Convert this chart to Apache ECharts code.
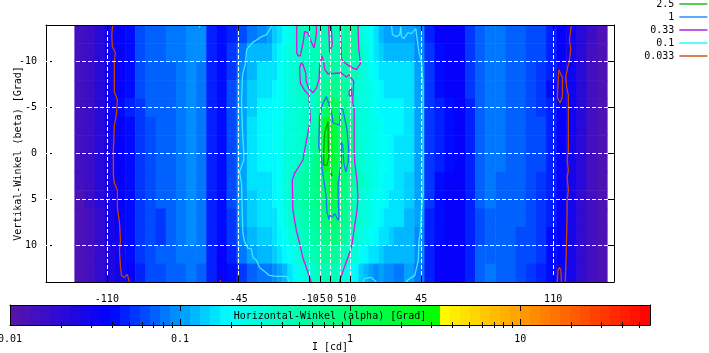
<!DOCTYPE html>
<html><head><meta charset="utf-8">
<style>html,body{margin:0;padding:0;background:#fff}#c{width:709px;height:353px}</style>
<script src="https://cdn.jsdelivr.net/npm/echarts@6/dist/echarts.min.js"></script>
</head><body><div id="c"></div>
<script>
const FONT = 'DejaVu Sans Mono';
const xTicks = [-110,-45,-10,-5,0,5,10,45,110];
const yTicks = [-10,-5,0,5,10];
const cbMajor = [0.01,0.1,1,10];
const cbMinor = [0.02,0.03,0.04,0.05,0.06,0.07,0.08,0.09,0.2,0.3,0.4,0.5,0.6,0.7,0.8,0.9,2,3,4,5,6,7,8,9,20,30,40,50];
const levels = ['2.5','1','0.33','0.1','0.033'];

const alphaEdges = [-126,-121,-116,-111,-106,-101,-96,-91,-86,-81,-76,-71,-66,-61,-56,-51,-46,-41,-36,-31,
 -28.5,-26,-23.5,-21,-18.5,-16,-13.5,-11,-8.5,-6,-3.5,-1,1.5,4,6.5,9,11.5,14,16.5,19,21.5,24,26.5,29,31.5,
 36.5,41.5,46.5,51.5,56.5,61.5,66.5,71.5,76.5,81.5,86.5,91.5,96.5,101.5,106.5,111.5,116.5,121.5,126.5,131.5,136.6];
const betaEdges = [-14,-12,-10,-8,-6,-4,-2,0,2,4,6,8,10,12,14];

const rowM13 = [.0135,.016,.021,.031,.038,.044,.06,.07,.072,.078,.085,.092,.095,.05,.04,.048,.065,.078,.09,
 .11,.14,.17,.2,.25,.3,.4,.38,.4,.42,.44,.46,.42,.44,.5,.58,.62,.55,.33,.24,.2,.15,.12,.11,.1,
 .105,.11,.095,.05,.038,.036,.038,.055,.075,.082,.078,.075,.07,.065,.06,.045,.036,.03,.021,.016,.012];
const rowM11 = [.0135,.016,.021,.031,.038,.044,.06,.069,.072,.077,.083,.09,.088,.05,.04,.055,.085,.115,.13,
 .13,.16,.19,.23,.27,.32,.36,.38,.4,.42,.46,.5,.48,.5,.55,.6,.62,.56,.34,.26,.21,.17,.14,.13,.12,
 .12,.13,.098,.052,.04,.036,.038,.055,.075,.082,.078,.075,.07,.066,.06,.046,.036,.029,.02,.015,.012];
const rowM9 = [.0135,.016,.021,.03,.037,.044,.06,.068,.07,.076,.082,.09,.086,.05,.04,.058,.095,.125,.15,
 .15,.17,.2,.24,.28,.33,.37,.38,.4,.42,.42,.5,.55,.55,.5,.48,.45,.42,.3,.26,.22,.18,.16,.15,.15,
 .15,.15,.1,.055,.042,.037,.038,.052,.072,.082,.08,.076,.07,.066,.058,.045,.031,.032,.02,.015,.012];
const rowM7 = [.0135,.016,.021,.032,.038,.044,.059,.067,.07,.075,.082,.092,.086,.05,.04,.06,.102,.14,.165,
 .17,.19,.21,.25,.28,.3,.34,.36,.38,.42,.5,.62,.75,.72,.62,.55,.45,.33,.28,.26,.23,.2,.18,.17,.17,
 .17,.16,.105,.058,.043,.038,.038,.052,.072,.082,.08,.076,.07,.066,.058,.044,.031,.033,.02,.015,.012];
const rowM5 = [.0135,.016,.02,.032,.04,.045,.058,.067,.069,.075,.081,.094,.086,.049,.04,.06,.102,.145,.175,
 .18,.2,.22,.25,.28,.3,.32,.35,.36,.38,.6,1.1,1.4,1.15,.95,.75,.5,.33,.28,.26,.24,.21,.19,.18,.18,
 .18,.16,.105,.058,.045,.04,.038,.05,.072,.08,.08,.076,.07,.066,.058,.046,.036,.03,.02,.015,.012];
const rowM3 = [.0135,.016,.02,.03,.037,.044,.058,.066,.068,.074,.08,.095,.085,.048,.04,.06,.1,.15,.18,
 .19,.2,.22,.26,.28,.3,.33,.35,.4,.5,1.05,2.2,2.4,1.5,1.05,1.05,.7,.34,.29,.27,.25,.23,.2,.19,.18,
 .18,.165,.105,.056,.045,.04,.038,.05,.072,.08,.078,.075,.07,.065,.06,.048,.036,.03,.02,.015,.012];
const rowM1 = [.0135,.016,.02,.029,.036,.043,.058,.066,.068,.074,.08,.095,.085,.048,.04,.06,.1,.15,.18,
 .19,.2,.22,.26,.29,.31,.33,.36,.48,.6,1.05,2.6,2.5,1.7,1.1,1.1,.8,.34,.3,.27,.25,.24,.22,.2,.19,
 .17,.15,.105,.055,.045,.04,.038,.05,.072,.08,.078,.075,.07,.065,.06,.048,.036,.029,.02,.015,.012];
const rowP1 = [.0135,.016,.02,.029,.036,.043,.058,.066,.068,.074,.08,.094,.085,.048,.04,.06,.1,.15,.175,
 .18,.19,.22,.26,.3,.33,.38,.45,.55,.68,.95,2.6,2.1,1.7,1.2,1.05,.7,.37,.32,.29,.26,.24,.22,.2,.19,
 .17,.15,.105,.055,.045,.04,.038,.05,.072,.08,.078,.075,.07,.065,.06,.048,.037,.029,.02,.015,.012];
const rowP3 = [.0135,.016,.02,.029,.036,.043,.057,.066,.068,.074,.08,.092,.084,.048,.04,.062,.105,.15,.17,
 .17,.19,.22,.27,.32,.38,.46,.54,.62,.72,.9,1.15,1.7,1.6,.95,.85,.66,.46,.35,.3,.26,.24,.21,.19,.18,
 .165,.145,.105,.055,.043,.038,.037,.05,.07,.078,.076,.073,.068,.064,.058,.047,.036,.029,.02,.015,.012];
const rowP5 = [.013,.016,.02,.028,.035,.042,.056,.065,.068,.074,.08,.09,.084,.048,.04,.06,.102,.145,.165,
 .165,.18,.21,.27,.33,.4,.46,.55,.62,.7,.85,1.1,1.5,1.4,.98,.76,.58,.43,.33,.28,.25,.22,.2,.18,.17,
 .16,.14,.102,.052,.042,.038,.037,.048,.068,.078,.076,.073,.068,.064,.058,.047,.036,.028,.019,.015,.012];
const rowP7 = [.013,.015,.019,.027,.034,.042,.056,.065,.058,.074,.08,.09,.083,.047,.04,.058,.1,.135,.155,
 .155,.17,.2,.25,.3,.36,.42,.5,.56,.62,.72,.9,1.05,1.05,.85,.66,.52,.38,.3,.26,.23,.2,.18,.17,.16,
 .15,.13,.1,.05,.04,.037,.036,.046,.066,.076,.075,.072,.068,.063,.056,.045,.036,.028,.019,.015,.012];
const rowP9 = [.013,.015,.019,.026,.033,.04,.055,.065,.056,.074,.079,.088,.082,.046,.04,.056,.098,.125,.14,
 .14,.16,.18,.22,.26,.31,.37,.44,.5,.56,.64,.75,.85,.8,.7,.56,.43,.33,.27,.23,.2,.18,.16,.15,.14,
 .13,.125,.098,.05,.04,.036,.036,.046,.065,.074,.074,.072,.066,.06,.054,.044,.036,.028,.019,.015,.012];
const rowP11 = [.013,.015,.018,.025,.032,.04,.055,.064,.068,.072,.078,.085,.08,.045,.038,.05,.08,.1,.125,
 .12,.135,.155,.18,.21,.25,.3,.36,.42,.48,.55,.6,.65,.6,.5,.38,.3,.26,.22,.19,.17,.155,.14,.13,.12,
 .12,.115,.095,.048,.038,.036,.036,.046,.068,.074,.074,.07,.066,.06,.052,.042,.036,.027,.018,.014,.012];
const rowP13 = [.013,.015,.018,.024,.03,.038,.05,.06,.065,.07,.075,.08,.075,.045,.036,.042,.055,.07,.085,
 .085,.097,.105,.12,.15,.19,.23,.27,.33,.38,.4,.42,.42,.4,.33,.28,.22,.18,.14,.12,.105,.098,.1,.095,.09,
 .085,.1,.085,.045,.037,.035,.034,.046,.07,.08,.075,.07,.064,.058,.05,.04,.033,.026,.018,.014,.012];
const intensity = [rowM13,rowM11,rowM9,rowM7,rowM5,rowM3,rowM1,rowP1,rowP3,rowP5,rowP7,rowP9,rowP11,rowP13];

const c25Main = [[-1,-3.48],[-2.6,-2.24],[-3.1,-.38],[-3.1,1.26],[-1.5,1.26],[-.6,.38],[-.8,-.38],[-.9,-2.02],[-1,-3.48]];
const c25Small = [[.35,1.91],[1,1.8],[1,2.46],[.35,2.35],[.35,1.91]];
const c1Main = [[-1.8,-6.21],[.8,-4.43],[1.5,-3.33],[4.8,-3.11],[5.3,-5.08],[6.4,-4.75],[8.4,-2.57],[9.2,-.38],[8.9,1.04],[7.8,1.99],[6.8,1.04],[6.3,-.93],[5.5,-1.26],[5.6,-.38],[5.6,1.04],[4,3.22],[4,4.72],[4.4,6.91],[4,7.27],[2.3,6.54],[1.2,6.91],[-.15,6.72],[-.5,7.19],[-1.5,6.36],[-2.1,4.32],[-3.8,1.8],[-4.2,.35],[-5.1,-.38],[-5.6,-.74],[-5.1,-4.02],[-3.8,-5.3],[-1.8,-6.21]];
const c033TopLeft = [[-16.4,-14],[-16.4,-10.98],[-15.8,-10.65],[-14.6,-10.65],[-13.3,-12.05],[-12.5,-13.31],[-10.9,-13.14],[-9.7,-12.41],[-7.9,-11.5],[-6.7,-12.95],[-6.7,-14]];
const c033Finger = [[-.5,-14],[-.6,-13.5],[-.15,-10.95],[1.1,-11.86],[.6,-14]];
const c033TopRight = [[4.8,-14],[5.3,-12.41],[5.6,-10.4],[6.4,-10.03],[9.7,-9.49],[13,-9.13],[15,-9.78],[14.2,-11.31],[13.8,-14]];
const c033Main = [[-9.2,14],[-10.9,12.92],[-13.3,11.42],[-15,9.78],[-16.6,8.36],[-18.3,6.18],[-18.6,2.9],[-17.4,2.13],[-13.3,.71],[-12.5,-.38],[-10.9,-2.24],[-9.7,-3.66],[-10.4,-6.39],[-12.5,-6.86],[-14.6,-7.67],[-15,-9.31],[-14.1,-9.89],[-13.3,-9.67],[-12,-8.8],[-11.7,-7.81],[-10.4,-7.05],[-8.4,-6.61],[-6.7,-7.16],[-5.4,-8.03],[-5.1,-9.49],[-4.1,-10.66],[-3.1,-10],[-2.6,-9.13],[-1,-8.69],[5.6,-8.77],[8.1,-8.33],[9.4,-8.58],[11.7,-7.85],[11.4,-6.58],[11.2,-5.52],[11.9,-4.97],[11.9,-.38],[12.2,1.04],[13.3,2.9],[13.8,4.86],[13.3,6.18],[10.6,10.19],[8.9,11.28],[5.1,13.61],[4.8,14]];
const c033Loop = [[9.4,-6.75],[10.5,-7.16],[10.6,-6.28],[9.5,-6.28],[9.4,-6.75]];
const c01Left = [[-28.3,-14],[-31.3,-12.95],[-33.7,-12.73],[-38.2,-12.08],[-41.1,-11.31],[-41.6,-9.89],[-43.1,-8.58],[-43.6,-5.85],[-43.1,-2.24],[-42.6,-.38],[-42.5,.71],[-44.6,2.02],[-43.6,3.22],[-43.3,5.85],[-43,8.58],[-42,9.67],[-40.5,10.33],[-38.8,10.33],[-38,11.31],[-36.3,11.64],[-34.7,12.41],[-29.8,13.28],[-26.3,13.39],[-21.4,13.39],[-19.9,14]];
const c01TopTick = [[-64.3,-14],[-64.3,-13.72]];
const c01Right = [[30.3,-14],[30.8,-12.95],[32.8,-12.73],[34.4,-12.95],[34.9,-13.83],[35.3,-12.73],[36.4,-12.51],[38.4,-13.17],[40.2,-13.06],[42.3,-13.61],[43,-12.41],[43.9,-10.98],[45.1,-10],[45.9,-7.27],[45.9,-.38],[45.9,4.32],[45.1,6.18],[44.6,8.36],[43.9,9.45],[43.5,11.64],[41.8,13.28],[38.5,13.75],[37.4,14]];
const c01Bottom = [[16.3,14],[17.1,13.61],[20.4,13.5],[22.9,14]];
const c0033Left = [[-107.1,-14],[-107.6,-12.95],[-107.3,-11.64],[-105.8,-10.98],[-106.3,-10],[-106.3,-6.72],[-104.8,-5.85],[-105.3,-4.2],[-106.3,-3.1],[-106.8,-.38],[-106.8,2.35],[-106.3,3.22],[-104.8,3.99],[-104.8,5.96],[-103.8,7.49],[-103.3,9.45],[-103.8,10.55],[-103.3,12.3],[-102.8,13.28],[-101.4,13.5],[-99.9,13.17],[-98.9,14]];
const c0033Tick = [[-54,13.77],[-54,14]];
const c0033Right = [[119,-14],[118.7,-13.5],[118,-12.4],[118.7,-11.31],[117.9,-10],[117.2,-9.46],[116.2,-8.26],[116.7,-7.16],[117.5,-6.39],[117.5,-.38],[116.9,.71],[117.5,1.8],[116.9,2.57],[117.5,3.99],[116.9,5.08],[116.9,6.39],[116.4,6.5],[116.4,11.31],[115.9,11.42],[115.9,14]];
const c0033LoopA = [[112.8,-9.13],[113.6,-9.2],[114.6,-8.25],[114.6,-6.18],[113.4,-5.52],[112.1,-6.07],[112.4,-7.49],[112.8,-9.13]];
const c0033LoopB = [[112.1,14],[112.4,12.73],[113.1,12.41],[113.8,12.73],[114.1,14]];

const contours = {
 '2.5':[c25Main,c25Small],
 '1':[c1Main],
 '0.33':[c033TopLeft,c033Finger,c033TopRight,c033Main,c033Loop],
 '0.1':[c01Left,c01TopTick,c01Right,c01Bottom],
 '0.033':[c0033Left,c0033Tick,c0033Right,c0033LoopA,c0033LoopB]
};
const lineColors = {'2.5':'#00a000','1':'#2070ff','0.33':'#e010e8','0.1':'#40e8ff','0.033':'#c84400'};
const keyColors = {'2.5':'#00b000','1':'#0080ff','0.33':'#a000e0','0.1':'#00f8ff','0.033':'#c04000'};

// colour scale
const CB_MIN = 0.01, CB_MAX = 58, BANDS = 64;
const lmin = Math.log10(CB_MIN), lspan = Math.log10(CB_MAX) - lmin;
const stops = [[0,[90,20,168]],[0.59,[0,0,255]],[1.28,[0,255,255]],[2.53,[0,255,0]],[2.5301,[255,255,0]],[3.76,[255,0,0]]];
function colorAtT(t){
  for(let i=1;i<stops.length;i++){
    if(t<=stops[i][0]){
      const a=stops[i-1],b=stops[i],f=(t-a[0])/(b[0]-a[0]);
      return 'rgb('+a[1].map((c,k)=>Math.round(c+(b[1][k]-c)*f)).join(',')+')';
    }
  }
  return 'rgb(255,0,0)';
}
function colorOf(v){
  const frac=(Math.log10(v)-lmin)/lspan;
  const b=Math.min(BANDS-1,Math.max(0,Math.floor(frac*BANDS)));
  return colorAtT((b+0.5)/BANDS*lspan);
}
const heatData=[];
intensity.forEach((row,j)=>row.forEach((v,i)=>{
  heatData.push([alphaEdges[i],alphaEdges[i+1],betaEdges[j],betaEdges[j+1],v]);
}));
const cbData=[];
for(let b=0;b<BANDS;b++){
  cbData.push([Math.pow(10,lmin+b/BANDS*lspan),Math.pow(10,lmin+(b+1)/BANDS*lspan),0,1,Math.pow(10,lmin+(b+.5)/BANDS*lspan)]);
}
function rectItem(params,api){
  const p0=api.coord([api.value(0),api.value(2)]);
  const p1=api.coord([api.value(1),api.value(3)]);
  const c=colorOf(api.value(4));
  return {type:'rect',shape:{x:Math.min(p0[0],p1[0]),y:Math.min(p0[1],p1[1]),width:Math.abs(p1[0]-p0[0])+.5,height:Math.abs(p1[1]-p0[1])+.5},style:{fill:c},silent:true};
}
const txt={fontFamily:FONT,fontSize:10,color:'#000'};
const blackLine={show:true,onZero:false,lineStyle:{color:'#000',width:1}};
const flatten=segs=>{const o=[];segs.forEach((s,i)=>{if(i)o.push([null,null]);s.forEach(p=>o.push(p));});return o;};

const chart=echarts.init(document.getElementById('c'),null,{renderer:'canvas'});
chart.setOption({
 animation:false,
 backgroundColor:'#fff',
 textStyle:txt,
 tooltip:{show:false},
 legend:{
  orient:'vertical',right:1,top:-1,align:'right',itemWidth:28,itemHeight:10,itemGap:3,padding:0,
  selectedMode:false,
  data:levels.map(n=>({name:n,itemStyle:{opacity:0},lineStyle:{color:keyColors[n],width:1.3}})),
  textStyle:{fontFamily:FONT,fontSize:10,color:'#000',width:40,align:'right',padding:[0,0,0,0]}
 },
 grid:[
  {left:46,top:25,width:568,height:257,containLabel:false,outerBoundsMode:'none'},
  {left:10,top:305,width:640,height:20,containLabel:false,outerBoundsMode:'none'}
 ],
 xAxis:[
  {gridIndex:0,type:'value',min:-140,max:140,position:'bottom',z:6,
   axisLine:blackLine,
   axisTick:{show:true,inside:true,length:6,customValues:xTicks,lineStyle:{color:'#000'}},
   axisLabel:{show:true,customValues:xTicks,margin:12,hideOverlap:false,showMinLabel:true,showMaxLabel:true,...txt},
   splitLine:{show:true,lineStyle:{color:'#fff',type:[4,2],width:1}},
   name:'Horizontal-Winkel (alpha) [Grad]',nameLocation:'center',nameGap:29,nameMoveOverlap:false,nameTextStyle:txt},
  {gridIndex:0,type:'value',min:-140,max:140,position:'top',z:6,
   axisLine:blackLine,
   axisTick:{show:true,inside:true,length:6,customValues:xTicks,lineStyle:{color:'#000'}},
   axisLabel:{show:false},splitLine:{show:false}},
  {gridIndex:1,type:'log',logBase:10,min:CB_MIN,max:CB_MAX,position:'bottom',z:5,
   axisLine:blackLine,
   axisTick:{show:true,inside:true,length:6,customValues:cbMajor,lineStyle:{color:'#000'}},
   axisLabel:{show:true,customValues:cbMajor,margin:9,hideOverlap:false,showMinLabel:true,...txt,formatter:v=>String(+(+v).toPrecision(2))},
   splitLine:{show:false},minorTick:{show:false},
   name:'I [cd]',nameLocation:'center',nameGap:17,nameMoveOverlap:false,nameTextStyle:txt},
  {gridIndex:1,type:'log',logBase:10,min:CB_MIN,max:CB_MAX,position:'top',z:5,
   axisLine:blackLine,
   axisTick:{show:true,inside:true,length:6,customValues:cbMajor,lineStyle:{color:'#000'}},
   axisLabel:{show:false},splitLine:{show:false}},
  {gridIndex:1,type:'log',logBase:10,min:CB_MIN,max:CB_MAX,position:'bottom',z:5,
   axisLine:{show:false},
   axisTick:{show:true,inside:true,length:3,customValues:cbMinor,lineStyle:{color:'#000'}},
   axisLabel:{show:false},splitLine:{show:false}},
  {gridIndex:1,type:'log',logBase:10,min:CB_MIN,max:CB_MAX,position:'top',z:5,
   axisLine:{show:false},
   axisTick:{show:true,inside:true,length:3,customValues:cbMinor,lineStyle:{color:'#000'}},
   axisLabel:{show:false},splitLine:{show:false}}
 ],
 yAxis:[
  {gridIndex:0,type:'value',min:-14,max:14,inverse:true,position:'left',z:0,
   axisLine:blackLine,
   axisTick:{show:true,inside:true,length:6,customValues:yTicks,lineStyle:{color:'#000'}},
   axisLabel:{show:true,customValues:yTicks,margin:9,...txt},
   splitLine:{show:true,lineStyle:{color:'#aaa',type:[4,2],width:1}},
   name:'Vertikal-Winkel (beta) [Grad]',nameLocation:'center',nameGap:23,nameMoveOverlap:false,nameTextStyle:txt},
  {gridIndex:0,type:'value',min:-14,max:14,inverse:true,position:'right',z:6,
   axisLine:blackLine,
   axisTick:{show:true,inside:true,length:6,customValues:yTicks,lineStyle:{color:'#000'}},
   axisLabel:{show:false},
   splitLine:{show:true,lineStyle:{color:'#fff',type:[4,2],width:1}}},
  {gridIndex:1,type:'value',min:0,max:1,position:'left',z:5,axisLine:blackLine,axisTick:{show:false},axisLabel:{show:false},splitLine:{show:false}},
  {gridIndex:1,type:'value',min:0,max:1,position:'right',z:5,axisLine:blackLine,axisTick:{show:false},axisLabel:{show:false},splitLine:{show:false}}
 ],
 series:[
  {type:'custom',name:'I',xAxisIndex:0,yAxisIndex:0,z:2,silent:true,renderItem:rectItem,encode:{x:[0,1],y:[2,3]},data:heatData},
  {type:'custom',name:'cb',xAxisIndex:2,yAxisIndex:2,z:2,silent:true,renderItem:rectItem,encode:{x:[0,1],y:[2,3]},data:cbData},
  ...levels.map(n=>({type:'line',name:n,xAxisIndex:0,yAxisIndex:0,z:4,silent:true,symbol:'none',showSymbol:false,
    connectNulls:false,clip:true,lineStyle:{color:lineColors[n],width:1.3},itemStyle:{color:lineColors[n]},data:flatten(contours[n])}))
 ]
});
</script></body></html>
